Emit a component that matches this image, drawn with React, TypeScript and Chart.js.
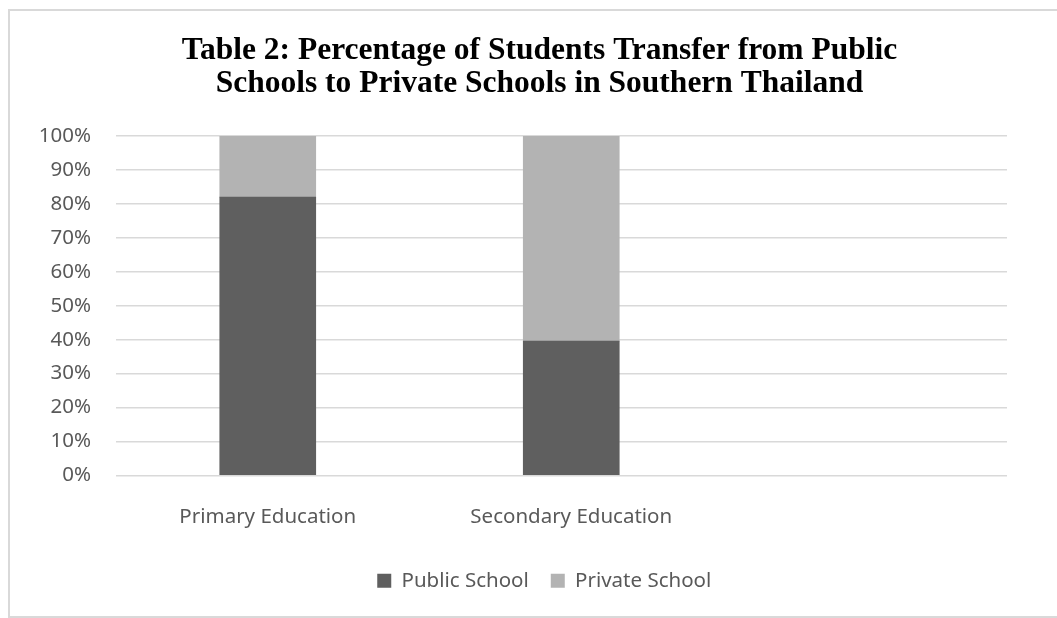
import React, { useEffect, useRef } from "react";
import { Chart, registerables } from "chart.js";

Chart.register(...registerables);

const titleLines = [
  "Table 2: Percentage of Students Transfer from Public",
  "Schools to Private Schools in Southern Thailand",
];
const categories = ["Primary Education", "Secondary Education", ""];
const publicSchool = [82, 39.6, null];
const privateSchool = [18, 60.4, null];
const yTicks = [0, 10, 20, 30, 40, 50, 60, 70, 80, 90, 100];

const FONT = "'Noto Sans', sans-serif";
const FS = 20.5;
const GRID_END = 1007;

const titlePlugin = {
  id: "customTitle",
  afterLayout(chart: any) {
    // shift legend so it is centred like the reference
    if (chart.legend) {
      chart.legend.left += 31;
      chart.legend.right += 31;
    }
  },
  beforeDatasetsDraw(chart: any) {
    // gridlines in the reference stop short of the last (empty) category
    const a = chart.chartArea;
    const ctx = chart.ctx;
    ctx.save();
    ctx.fillStyle = "#ffffff";
    ctx.fillRect(GRID_END, a.top - 3, a.right - GRID_END + 3, a.bottom - a.top + 6);
    ctx.restore();
  },
  afterDraw(chart: any) {
    const ctx = chart.ctx;
    ctx.save();
    ctx.fillStyle = "#000000";
    ctx.font = "bold 31.5px 'Liberation Serif', serif";
    ctx.textAlign = "center";
    ctx.textBaseline = "alphabetic";
    ctx.fillText(titleLines[0], 539.5, 59);
    ctx.fillText(titleLines[1], 539.5, 91.5);
    ctx.restore();
  },
};

export default function App() {
  const ref = useRef<HTMLCanvasElement | null>(null);
  useEffect(() => {
    if (!ref.current) return;
    const chart = new Chart(ref.current, {
      type: "bar",
      data: {
        labels: categories,
        datasets: [
          {
            label: "Public School",
            data: publicSchool,
            backgroundColor: "#5f5f5f",
            barThickness: 96,
          },
          {
            label: "Private School",
            data: privateSchool,
            backgroundColor: "#b3b3b3",
            barThickness: 96,
          },
        ],
      },
      options: {
        responsive: false,
        animation: false,
        layout: { padding: { top: 136, left: 0, right: 30.5, bottom: 17 } },
        plugins: {
          title: { display: false },
          tooltip: { enabled: false },
          legend: {
            position: "bottom",
            labels: {
              font: { family: FONT, size: FS },
              color: "#595959",
              boxWidth: 14,
              boxHeight: 14,
              padding: 22,
            },
          },
        },
        scales: {
          x: {
            stacked: true,
            grid: { display: false },
            border: { display: false },
            ticks: {
              font: { family: FONT, size: FS },
              color: "#595959",
              padding: 21,
            },
            afterFit(scale: any) {
              scale.height = 73;
            },
          },
          y: {
            stacked: true,
            min: 0,
            max: 100,
            afterBuildTicks(scale: any) {
              scale.ticks = yTicks.map((v) => ({ value: v }));
            },
            grid: { color: "#d9d9d9", lineWidth: 1.5, drawTicks: false },
            border: { display: false },
            ticks: {
              font: { family: FONT, size: FS },
              color: "#595959",
              padding: 25,
              callback: (v: any) => v + "%",
            },
            afterFit(scale: any) {
              scale.width = 116;
            },
          },
        },
      },
      plugins: [titlePlugin],
    });
    return () => chart.destroy();
  }, []);

  return (
    <div>
      <canvas
        ref={ref}
        width={1057}
        height={618}
        style={{ position: "fixed", left: 0, top: 0, width: 1057, height: 618 }}
      />
      <div
        style={{
          position: "fixed",
          left: 8,
          top: 9,
          width: 1100,
          height: 609,
          boxSizing: "border-box",
          border: "2px solid #d9d9d9",
          pointerEvents: "none",
        }}
      />
    </div>
  );
}
